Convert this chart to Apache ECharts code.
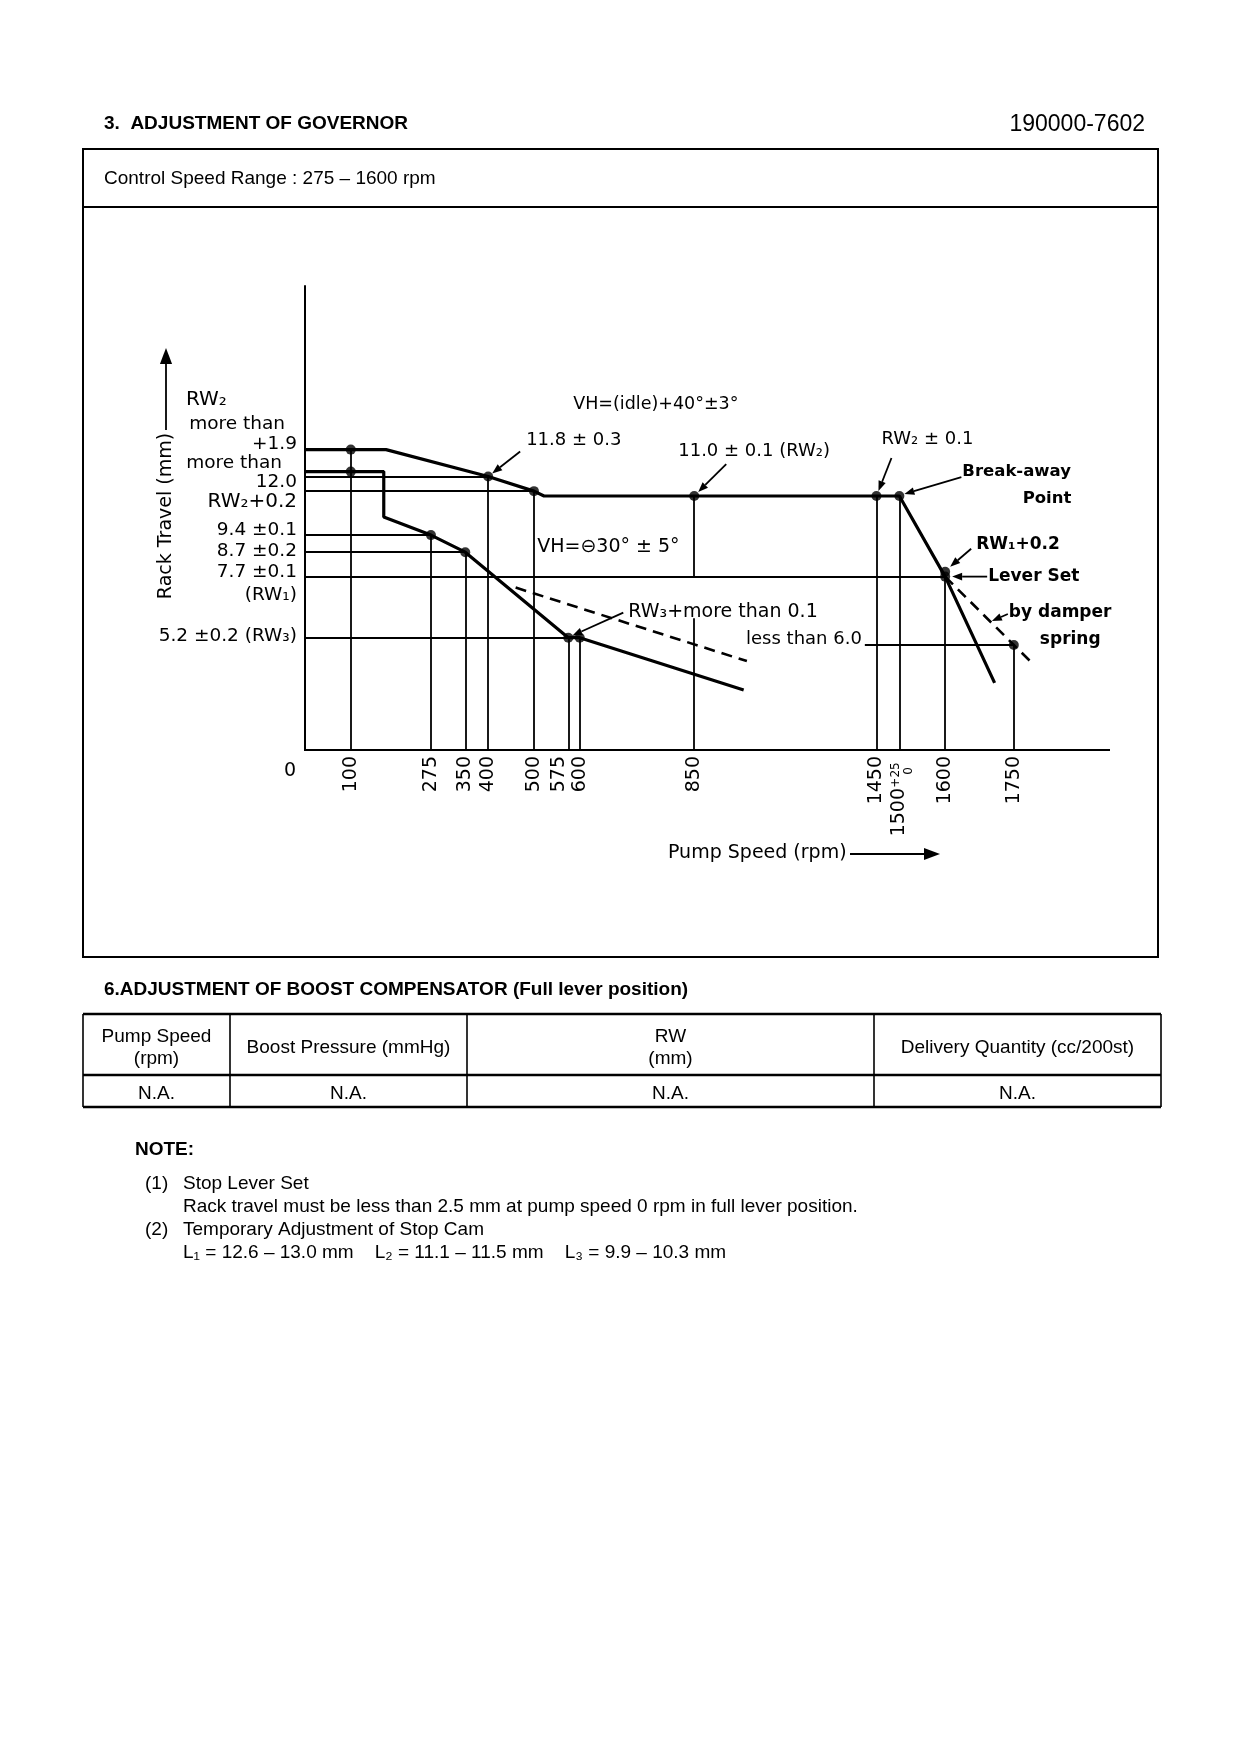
<!DOCTYPE html>
<html>
<head>
<meta charset="utf-8">
<title>Adjustment of governor</title>
<script src="https://cdn.jsdelivr.net/npm/echarts@6/dist/echarts.min.js"></script>
<style>
  html, body { margin: 0; padding: 0; background: #fff; }
  #main { width: 1240px; height: 1754px; }
</style>
</head>
<body>
<div id="main"></div>
<script>
// ---- data ----
const Y_MIN = 0.6, Y_MAX = 19.6;
const X_MAX = 1960;

// pump speeds marked on the speed axis (rpm)
const speedTicks = [100, 275, 350, 400, 500, 575, 600, 850, 1450, 1500, 1600, 1750];

// full lever, VH = (idle) + 40° ± 3°
const fullSpeed = [0, 100, 177, 400, 500, 522, 850, 1450, 1500, 1600, 1708];
const fullRack = [12.9, 12.9, 12.9, 11.8, 11.2, 11.0, 11.0, 11.0, 11.0, 7.7, 3.35];

// lever at VH = -30° ± 5°
const partSpeed = [0, 100, 172, 172, 275, 350, 575, 600, 958];
const partRack = [12.0, 12.0, 12.0, 10.14, 9.4, 8.7, 5.2, 5.2, 3.06];

// RW3 + more than 0.1 (dashed)
const rw3Speed = [460, 965];
const rw3Rack = [7.25, 4.24];

// by damper spring (dashed)
const damperSpeed = [1600, 1750, 1785];
const damperRack = [7.7, 4.9, 4.25];

// measuring points
const pointSpeed = [100, 100, 275, 350, 400, 500, 575, 600, 850, 1450, 1500, 1600, 1600, 1750];
const pointRack = [12.9, 12.0, 9.4, 8.7, 11.8, 11.2, 5.2, 5.2, 11.0, 11.0, 11.0, 7.9, 7.7, 4.9];

// vertical lines from the speed axis up to the set point
const dropSpeed = [100, 275, 350, 400, 500, 575, 600, 1450, 1500, 1600, 1750];
const dropRack = [12.9, 9.4, 8.7, 11.8, 11.2, 5.2, 5.2, 11.0, 11.0, 7.7, 4.9];

// horizontal lines from the rack axis out to the set point
const levelRack = [11.8, 11.2, 9.4, 8.7, 7.7, 5.2];
const levelSpeed = [400, 500, 275, 350, 1600, 600];

// the 850 rpm line is broken round the RW3 note
const line850 = [[11.0, 7.7], [6.0, Y_MIN]];

// rack travel labels on the left
const rackLabels = ['RW₂', 'more than', '+1.9', 'more than', '12.0', 'RW₂+0.2', '9.4 ±0.1', '8.7 ±0.2', '7.7 ±0.1', '(RW₁)', '5.2 ±0.2 (RW₃)'];
const rackLabelAt = [12.9, 12.9, 12.9, 12.0, 12.0, 11.2, 9.4, 8.7, 7.7, 7.7, 5.2];

// boost compensator table
const tableHead = [['Pump Speed', '(rpm)'], ['Boost Pressure (mmHg)'], ['RW', '(mm)'], ['Delivery Quantity (cc/200st)']];
const tableRow = ['N.A.', 'N.A.', 'N.A.', 'N.A.'];

// ---- drawing ----
const CF = "'DejaVu Sans', 'Liberation Sans', sans-serif";   // lettering on the diagram
const PF = "'Liberation Sans', Arial, Helvetica, sans-serif"; // sheet text
const zip = (xs, ys) => xs.map((x, i) => [x, ys[i]]);

const refLines = [];
dropSpeed.forEach((s, i) => refLines.push({ coords: [[s, Y_MIN], [s, dropRack[i]]] }));
levelRack.forEach((r, i) => refLines.push({ coords: [[0, r], [levelSpeed[i], r]] }));
line850.forEach(p => refLines.push({ coords: [[850, p[0]], [850, p[1]]] }));

const chart = echarts.init(document.getElementById('main'));

const option = {
  animation: false,
  backgroundColor: '#fff',
  grid: { left: 305, top: 286, width: 805, height: 464 },
  xAxis: {
    type: 'value', min: 0, max: X_MAX,
    // the drawing squeezes 850 - 1450 rpm
    breaks: [{ start: 1000, end: 1400, gap: 198 }],
    breakArea: { show: false, itemStyle: { color: 'rgba(0,0,0,0)', borderColor: 'rgba(0,0,0,0)' }, zigzagAmplitude: 0 },
    axisLine: { show: false },
    axisTick: { show: false },
    splitLine: { show: false },
    axisLabel: {
      customValues: speedTicks,
      rotate: 90, margin: 6, color: '#000',
      fontFamily: CF, fontSize: 19,
      formatter: v => v === 1500 ? '{lo|1500}' : v === 575 ? '{sh|575}' : '{n|' + v + '}',
      rich: {
        n: { fontFamily: CF, fontSize: 19, color: '#000' },
        sh: { fontFamily: CF, fontSize: 19, color: '#000', padding: [0, 0, 18, 0] },
        lo: { fontFamily: CF, fontSize: 19, color: '#000', padding: [0, 32, 0, 0] }
      }
    }
  },
  yAxis: {
    type: 'value', min: Y_MIN, max: Y_MAX,
    axisLine: { show: true, lineStyle: { color: '#000', width: 2 } },
    axisTick: { show: false },
    axisLabel: { show: false },
    splitLine: { show: false }
  },
  series: [
    {
      type: 'lines', coordinateSystem: 'cartesian2d', silent: true, z: 2,
      lineStyle: { color: '#000', width: 1.8, opacity: 1 },
      data: refLines
    },
    {
      type: 'line', data: zip(fullSpeed, fullRack), showSymbol: false, z: 3,
      lineStyle: { color: '#000', width: 3.2 }
    },
    {
      type: 'line', data: zip(partSpeed, partRack), showSymbol: false, z: 3,
      lineStyle: { color: '#000', width: 3.2 }
    },
    {
      type: 'line', data: zip(rw3Speed, rw3Rack), showSymbol: false, z: 3,
      lineStyle: { color: '#000', width: 2.6, type: [11, 7] }
    },
    {
      type: 'line', data: zip(damperSpeed, damperRack), showSymbol: false, z: 3,
      lineStyle: { color: '#000', width: 2.6, type: [11, 7] }
    },
    {
      type: 'scatter', data: zip(pointSpeed, pointRack), symbolSize: 10, z: 4,
      itemStyle: { color: '#000' }
    }
  ]
};
chart.setOption(option);

// pixel helpers for the lettering
const P = (s, r) => chart.convertToPixel({ gridIndex: 0 }, [s, r]);
const g = [];
function text(x, y, str, o) {
  o = o || {};
  g.push({
    type: 'text', x: x, y: y, rotation: o.rot || 0, z: 10,
    style: {
      text: str, x: 0, y: 0, fill: '#000',
      font: (o.bold ? 'bold ' : '') + (o.size || 19) + 'px ' + (o.font || PF),
      align: o.align || 'left', verticalAlign: 'middle'
    }
  });
}
function seg(x1, y1, x2, y2, w) {
  g.push({ type: 'line', z: 10, shape: { x1, y1, x2, y2 }, style: { stroke: '#000', lineWidth: w || 2 } });
}
function arrow(x1, y1, x2, y2, size) {
  const a = Math.atan2(y2 - y1, x2 - x1), l = size || 10, w = l * 0.38;
  const bx = x2 - l * Math.cos(a), by = y2 - l * Math.sin(a);
  seg(x1, y1, bx, by, 1.8);
  g.push({
    type: 'polygon', z: 10,
    shape: { points: [[x2, y2], [bx - w * Math.sin(a), by + w * Math.cos(a)], [bx + w * Math.sin(a), by - w * Math.cos(a)]] },
    style: { fill: '#000' }
  });
}

// speed axis line, drawn whole across the squeezed part
const a0 = P(0, Y_MIN), a1 = P(X_MAX, Y_MIN);
seg(a0[0] - 1, a0[1], a1[0], a1[1], 2);

// rack travel labels
const rackLayout = [
  { dx: -119, dy: -50, align: 'left', size: 20 },
  { dx: -20, dy: -25 }, { dx: -8, dy: -5 }, { dx: -23, dy: -8 }, { dx: -8, dy: 11 },
  { dx: -8, dy: 11, size: 20 }, { dx: -8, dy: -5 }, { dx: -8, dy: -1 }, { dx: -8, dy: -4 },
  { dx: -8, dy: 19 }, { dx: -8, dy: -1 }
];
rackLabels.forEach((t, i) => {
  const p = P(0, rackLabelAt[i]), l = rackLayout[i];
  text(p[0] + l.dx, p[1] + l.dy, t, { font: CF, size: l.size || 18.5, align: l.align || 'right' });
});

// notes on the diagram
const chartNotes = [
  { at: [850, 11.0], text: 'VH=(idle)+40°±3°', dx: -121, dy: -92, size: 17.5 },
  { at: [400, 11.8], text: '11.8 ± 0.3', dx: 38, dy: -36, lead: [32, -25, 4, -3] },
  { at: [850, 11.0], text: '11.0 ± 0.1 (RW₂)', dx: -16, dy: -45, lead: [32, -32, 4, -4] },
  { at: [1450, 11.0], text: 'RW₂ ± 0.1', dx: 5, dy: -57, lead: [15, -38, 2, -5] },
  { at: [1500, 11.0], text: 'Break-away', dx: 63, dy: -24, bold: true, size: 16.5, lead: [62, -19, 5, -2] },
  { at: [1500, 11.0], text: 'Point', dx: 172, dy: 3, align: 'right', bold: true, size: 16.5 },
  { at: [1600, 7.9], text: 'RW₁+0.2', dx: 31, dy: -27, bold: true, size: 17, lead: [26, -23, 5, -5] },
  { at: [1600, 7.7], text: 'Lever Set', dx: 43, dy: 0, bold: true, size: 17, lead: [42, 0, 7, 0] },
  { at: [1750, 4.9], text: 'by damper', dx: -5, dy: -32, bold: true, size: 17, lead: [-6, -31, -22, -24] },
  { at: [1750, 4.9], text: 'spring', dx: 26, dy: -5, bold: true, size: 17 },
  { at: [850, 7.7], text: 'VH=⊖30° ± 5°', dx: -157, dy: -30, size: 19 },
  { at: [575, 5.2], text: 'RW₃+more than 0.1', dx: 60, dy: -26, size: 19, lead: [55, -25, 4, -2] },
  { at: [1750, 4.9], text: 'less than 6.0', dx: -152, dy: -6, align: 'right', rule: -149 }
];
chartNotes.forEach(n => {
  const p = P(n.at[0], n.at[1]);
  text(p[0] + n.dx, p[1] + n.dy, n.text, { font: CF, size: n.size || 18, align: n.align, bold: n.bold });
  if (n.lead) arrow(p[0] + n.lead[0], p[1] + n.lead[1], p[0] + n.lead[2], p[1] + n.lead[3], 10);
  if (n.rule) seg(p[0] + n.rule, p[1], p[0], p[1], 1.8);
});

// origin and the 1500 rpm tolerance
text(a0[0] - 21, a0[1] + 21, '0', { font: CF, size: 19 });
const t15 = P(1500, Y_MIN);
text(t15[0] - 3, t15[1] + 25, '+25', { font: CF, size: 12, rot: Math.PI / 2, align: 'center' });
text(t15[0] + 10, t15[1] + 21, '0', { font: CF, size: 12, rot: Math.PI / 2, align: 'center' });

// axis titles
text(166, 516, 'Rack Travel (mm)', { font: CF, size: 19, rot: Math.PI / 2, align: 'center' });
arrow(166, 430, 166, 348, 16);
text(668, 853, 'Pump Speed (rpm)', { font: CF, size: 19 });
arrow(850, 854, 940, 854, 16);

// sheet frame and headings
text(104, 124, '3.  ADJUSTMENT OF GOVERNOR', { bold: true, size: 19 });
text(1145, 125, '190000-7602', { size: 23, align: 'right' });
g.push({ type: 'rect', z: 1, shape: { x: 83, y: 149, width: 1075, height: 808 }, style: { fill: 'none', stroke: '#000', lineWidth: 2 } });
seg(83, 207, 1158, 207, 2);
text(104, 179, 'Control Speed Range : 275 – 1600 rpm', { size: 19 });

// boost compensator table
text(104, 990, '6.ADJUSTMENT OF BOOST COMPENSATOR (Full lever position)', { bold: true, size: 19 });
const colX = [83, 230, 467, 874, 1161];
const rowY = [1014, 1075, 1107];
rowY.forEach(y => seg(colX[0], y, colX[4], y, 2.4));
colX.forEach(x => seg(x, rowY[0], x, rowY[2], 1.6));
tableHead.forEach((h, i) => {
  const cx = (colX[i] + colX[i + 1]) / 2, cy = (rowY[0] + rowY[1]) / 2 + 3;
  h.forEach((line, k) => text(cx, cy + (k - (h.length - 1) / 2) * 22, line, { size: 19, align: 'center' }));
  text(cx, (rowY[1] + rowY[2]) / 2 + 3, tableRow[i], { size: 19, align: 'center' });
});

// notes
text(135, 1150, 'NOTE:', { bold: true, size: 19 });
text(145, 1184, '(1)', { size: 19 });
text(183, 1184, 'Stop Lever Set', { size: 19 });
text(183, 1207, 'Rack travel must be less than 2.5 mm at pump speed 0 rpm in full lever position.', { size: 19 });
text(145, 1230, '(2)', { size: 19 });
text(183, 1230, 'Temporary Adjustment of Stop Cam', { size: 19 });
text(183, 1253, 'L₁ = 12.6 – 13.0 mm    L₂ = 11.1 – 11.5 mm    L₃ = 9.9 – 10.3 mm', { size: 19 });

chart.setOption({ graphic: g });
</script>
</body>
</html>
